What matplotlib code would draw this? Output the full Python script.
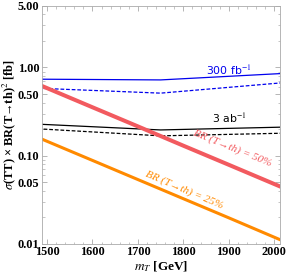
import matplotlib
matplotlib.use("Agg")
import matplotlib.pyplot as plt
from matplotlib.ticker import FixedLocator, NullFormatter

plt.rcParams["mathtext.fontset"] = "stix"

# BR(T->th) curves
m_br = [1480, 1600, 1700, 1800, 1900, 2020]
xs_br50 = [0.645, 0.354, 0.215, 0.130, 0.079, 0.0433]
xs_br25 = [0.161, 0.0885, 0.0537, 0.0326, 0.0198, 0.0108]

# luminosity reach curves
m_lum = [1480, 1750, 2020]
reach_300 = [0.737, 0.723, 0.856]
reach_300_dash = [0.582, 0.512, 0.672]
reach_3ab = [0.228, 0.196, 0.211]
reach_3ab_dash = [0.202, 0.168, 0.180]

xticks = [1500, 1600, 1700, 1800, 1900, 2000]
yticks = [0.01, 0.05, 0.10, 0.50, 1.00, 5.00]
ytick_labels = ["0.01", "0.05", "0.10", "0.50", "1.00", "5.00"]

fig = plt.figure(figsize=(2.89, 2.76), dpi=100)
ax = fig.add_axes([0.144, 0.116, 0.825, 0.863])

ax.plot(m_lum, reach_300, color="#0000ee", lw=0.9)
ax.plot(m_lum, reach_300_dash, color="#0000ee", lw=0.9, ls=(0, (3, 1.5)))
ax.plot(m_lum, reach_3ab, color="black", lw=0.9)
ax.plot(m_lum, reach_3ab_dash, color="black", lw=0.9, ls=(0, (3, 1.5)))
ax.plot(m_br, xs_br50, color="#f25a5f", lw=2.9, solid_capstyle="butt")
ax.plot(m_br, xs_br25, color="#ff8a00", lw=2.2, solid_capstyle="butt")

ax.set_yscale("log")
ax.set_xlim(1488, 2013)
ax.set_ylim(0.01, 5)

ax.text(1900, 0.79, r"300 fb$^{-1}$", color="#0000ee", fontsize=7.8,
        family="DejaVu Sans", ha="center", va="bottom")
ax.text(1900, 0.222, r"3 ab$^{-1}$", color="black", fontsize=7.8,
        family="DejaVu Sans", ha="center", va="bottom")
ax.text(1908, 0.121, "BR (T→th) = 50%", color="#f25a5f", fontsize=8,
        family=["Liberation Serif", "DejaVu Serif"], style="italic",
        rotation=-22, ha="center", va="center")
ax.text(1802, 0.041, "BR (T→th) = 25%", color="#ff8a00", fontsize=8,
        family=["Liberation Serif", "DejaVu Serif"], style="italic",
        rotation=-23, ha="center", va="center")

ax.xaxis.set_major_locator(FixedLocator(xticks))
ax.xaxis.set_minor_locator(FixedLocator(range(1480, 2020, 20)))
ax.yaxis.set_major_locator(FixedLocator(yticks))
minors = [k * 10.0 ** e for e in (-2, -1, 0) for k in range(1, 10)]
ax.yaxis.set_minor_locator(FixedLocator(minors))
ax.yaxis.set_minor_formatter(NullFormatter())
ax.set_yticklabels(ytick_labels)
ax.set_xticklabels([str(t) for t in xticks])

for lab in ax.get_xticklabels() + ax.get_yticklabels():
    lab.set_family("Liberation Serif")
    lab.set_fontweight("bold")
    lab.set_fontsize(8.8)

ax.tick_params(which="both", direction="in", top=True, right=True,
               color="#999999", pad=1.5)
ax.tick_params(which="major", length=3.5, width=0.5)
ax.tick_params(which="minor", length=1.8, width=0.4)
for sp in ax.spines.values():
    sp.set_color("#aaaaaa")
    sp.set_linewidth(0.6)

ax.set_xlabel(r"$m_T$ [GeV]", family="Liberation Serif", fontweight="bold",
              fontsize=9.5, labelpad=1)
ax.set_ylabel(r"$\sigma$(TT) × BR(T→th)$^2$ [fb]", family="Liberation Serif",
              fontweight="bold", fontsize=9, labelpad=0)

fig.savefig("out.png", dpi=100)
